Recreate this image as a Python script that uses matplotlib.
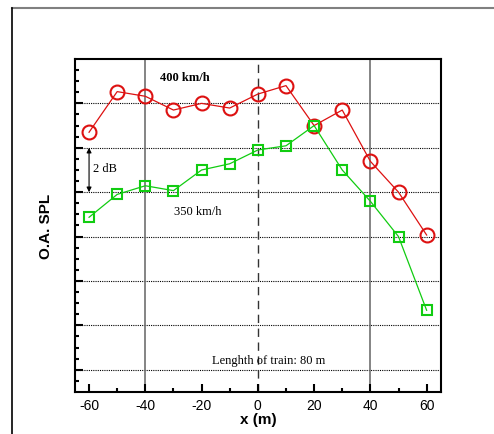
import matplotlib.pyplot as plt
from matplotlib.lines import Line2D
import numpy as np

x_pos = [-60, -50, -40, -30, -20, -10, 0, 10, 20, 30, 40, 50, 60]
spl_400 = [11.70, 13.53, 13.32, 12.70, 13.00, 12.79, 13.42, 13.80, 12.00, 12.70, 10.39, 9.00, 7.07]
spl_350 = [7.87, 8.90, 9.29, 9.07, 10.00, 10.28, 10.90, 11.09, 12.00, 10.00, 8.59, 7.00, 3.68]
x_ticks = [-60, -40, -20, 0, 20, 40, 60]

plt.rcParams['font.family'] = ['Liberation Sans', 'DejaVu Sans']
plt.rcParams['axes.unicode_minus'] = False
fig = plt.figure(figsize=(4.94, 4.35), dpi=100)
ax = fig.add_axes([0.1518, 0.0966, 0.7403, 0.7655])

# frame around the figure (top gray, left black)
fig.add_artist(Line2D([12 / 494, 1], [1 - 8.5 / 435, 1 - 8.5 / 435], color='#808080', lw=1.5))
fig.add_artist(Line2D([12 / 494, 12 / 494], [0, 1 - 8.5 / 435], color='black', lw=1.2))

ax.set_xlim(-65, 65)
ax.set_ylim(0, 15)

# horizontal dotted grid at majors
for yv in np.arange(1, 15, 2):
    ax.axhline(yv, color='black', lw=0.8, ls=(0, (1, 1)), zorder=1)
ax.axvline(-40, color='#707070', lw=1.2, zorder=1)
ax.axvline(40, color='#707070', lw=1.2, zorder=1)
ax.axvline(0, color='#333333', lw=1.0, ls=(0, (6, 4)), zorder=1)

ax.plot(x_pos, spl_400, color='#dd1111', lw=0.9, marker='o', ms=10,
        mfc='none', mec='#dd1111', mew=1.5, zorder=3)
ax.plot(x_pos, spl_350, color='#11cc11', lw=0.9, marker='s', ms=7,
        mfc='none', mec='#11cc11', mew=1.5, zorder=3)

ax.text(-26, 14.2, '400 km/h', family='Liberation Serif', fontweight='bold',
        fontsize=9, ha='center', va='center')
ax.text(-21.3, 8.14, '350 km/h', family='Liberation Serif', fontsize=9,
        ha='center', va='center')
ax.text(-58.6, 10.1, '2 dB', family='Liberation Serif', fontsize=9,
        ha='left', va='center')
ax.annotate('', xy=(-60, 11), xytext=(-60, 9),
            arrowprops=dict(arrowstyle='<|-|>', color='black', lw=0.8,
                            mutation_scale=7, shrinkA=0, shrinkB=0))
ax.text(3.7, 1.45, 'Lenghth of train: 80 m', family='Liberation Serif',
        fontsize=9, ha='center', va='center')

ax.set_xticks(x_ticks)
ax.set_xticks(np.arange(-60, 61, 10), minor=True)
ax.set_yticks(np.arange(1, 15, 2))
ax.set_yticks(np.arange(0.5, 15, 0.5), minor=True)
ax.set_yticklabels([])
ax.tick_params(which='both', direction='in', width=1.5)
ax.tick_params(which='major', length=6, labelsize=10)
ax.tick_params(which='minor', length=3)
ax.tick_params(axis='x', pad=4)
for s in ax.spines.values():
    s.set_linewidth(1.5)

ax.set_xlabel('x (m)', fontsize=11, fontweight='bold', labelpad=0)
ax.set_ylabel('O.A. SPL', fontsize=11, fontweight='bold', labelpad=12)

fig.savefig('out.png', dpi=100)
